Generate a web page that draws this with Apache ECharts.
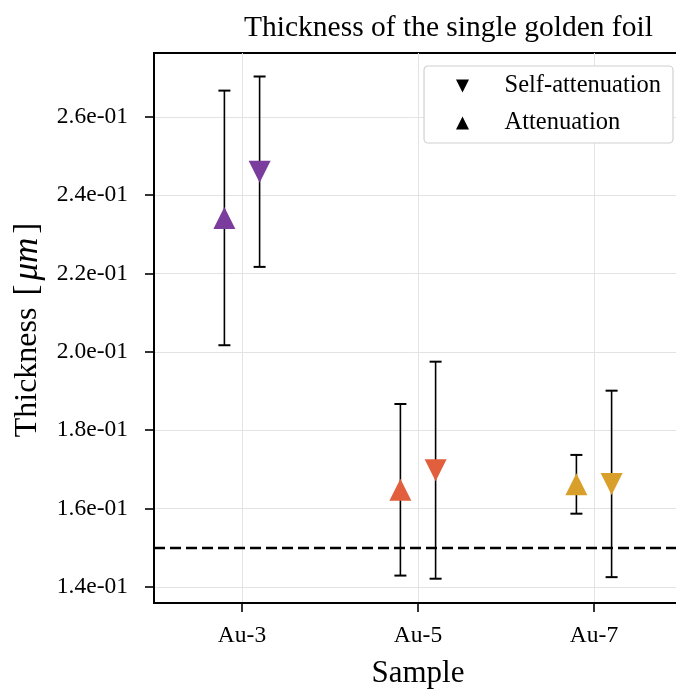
<!DOCTYPE html>
<html>
<head>
<meta charset="utf-8">
<script src="https://cdn.jsdelivr.net/npm/echarts@6/dist/echarts.min.js"></script>
<style>html,body{margin:0;padding:0;background:#fff;}#c{width:676px;height:695px;}</style>
</head>
<body>
<div id="c"></div>
<script>
// ---- data ----
const categories = ['Au-3', 'Au-5', 'Au-7'];
const attenuation = [0.2342, 0.1648, 0.1662];
const attenuationErr = [0.0325, 0.0219, 0.0075];
const selfAttenuation = [0.2460, 0.1698, 0.1663];
const selfAttenuationErr = [0.0243, 0.0277, 0.0238];
const referenceThickness = 0.15;
const yTickValues = [0.14, 0.16, 0.18, 0.20, 0.22, 0.24, 0.26];
const yTickLabels = ['1.4e-01', '1.6e-01', '1.8e-01', '2.0e-01', '2.2e-01', '2.4e-01', '2.6e-01'];
const sampleColors = ['#7a3d9d', '#e25f3d', '#d89f2b'];

const FONT = 'Liberation Serif, Times New Roman, serif';
const OFF = 0.1;
const xIdx = categories.map((c, i) => i);

function errData(vals, errs, off) {
  return vals.map((v, i) => [i + off, v - errs[i], v + errs[i]]);
}
function ptData(vals, off) {
  return vals.map((v, i) => ({ value: [i + off, v], itemStyle: { color: sampleColors[i], opacity: 1 } }));
}
function renderErr(params, api) {
  const x = api.value(0), lo = api.value(1), hi = api.value(2);
  const pLo = api.coord([x, lo]), pHi = api.coord([x, hi]);
  const cap = 6;
  const st = { stroke: '#000', lineWidth: 1.6 };
  return {
    type: 'group',
    children: [
      { type: 'line', shape: { x1: pLo[0], y1: pLo[1], x2: pHi[0], y2: pHi[1] }, style: st },
      { type: 'line', shape: { x1: pLo[0] - cap, y1: pLo[1], x2: pLo[0] + cap, y2: pLo[1] }, style: { stroke: '#000', lineWidth: 2 } },
      { type: 'line', shape: { x1: pHi[0] - cap, y1: pHi[1], x2: pHi[0] + cap, y2: pHi[1] }, style: { stroke: '#000', lineWidth: 2 } }
    ]
  };
}

const DOWN = 'path://M0,0L20,0L10,20Z';
const UP = 'path://M10,0L20,20L0,20Z';

const chart = echarts.init(document.getElementById('c'), null, { renderer: 'canvas' });
chart.setOption({
  animation: false,
  backgroundColor: '#fff',
  textStyle: { fontFamily: FONT },
  title: {
    text: 'Thickness of the single golden foil',
    left: 239, top: 8,
    textStyle: { fontFamily: FONT, fontSize: 29.5, fontWeight: 'normal', color: '#000' }
  },
  grid: { left: 154, top: 53, width: 528, bottom: 92, show: true, borderColor: '#000', borderWidth: 2,
    containLabel: false, outerBoundsMode: 'none' },
  legend: {
    orient: 'vertical',
    right: 3, top: 66,
    padding: [7, 12, 7, 32],
    itemGap: 11,
    itemWidth: 40, itemHeight: 13,
    backgroundColor: '#fff',
    borderColor: '#d0d0d0', borderWidth: 1.2, borderRadius: 4,
    itemStyle: { color: '#000', opacity: 1 },
    data: [
      { name: 'Self-attenuation', icon: DOWN },
      { name: 'Attenuation', icon: UP }
    ],
    textStyle: { fontFamily: FONT, fontSize: 24.5, color: '#000', lineHeight: 26, padding: [0, 0, 0, 17] }
  },
  xAxis: {
    type: 'value', min: -0.5, max: 2.5,
    name: 'Sample', nameLocation: 'middle', nameGap: 55,
    nameTextStyle: { fontFamily: FONT, fontSize: 31, color: '#000' },
    axisLine: { show: true, onZero: false, lineStyle: { color: '#000', width: 2 } },
    axisTick: { show: true, length: 9, lineStyle: { color: '#000', width: 1.6 }, customValues: xIdx },
    axisLabel: { customValues: xIdx, formatter: v => categories[Math.round(v)] || '', margin: 21,
      fontFamily: FONT, fontSize: 23.5, color: '#000' },
    splitLine: { show: true, lineStyle: { color: '#e3e3e3', width: 1 } }
  },
  yAxis: {
    type: 'value', min: 0.1359, max: 0.2763,
    name: 'Thickness {b|[}{i|μm}{b|]}', nameLocation: 'middle', nameGap: 109, nameRotate: 90,
    nameTextStyle: { fontFamily: FONT, fontSize: 32, color: '#000',
      rich: {
        b: { fontFamily: FONT, fontSize: 33, color: '#000', padding: [0, 4, 0, 4] },
        i: { fontFamily: FONT, fontSize: 35, fontStyle: 'italic', color: '#000' }
      } },
    axisLine: { show: true, onZero: false, lineStyle: { color: '#000', width: 2 } },
    axisTick: { show: true, length: 9, lineStyle: { color: '#000', width: 1.6 }, customValues: yTickValues },
    axisLabel: { customValues: yTickValues, margin: 26,
      formatter: v => { const k = yTickValues.findIndex(t => Math.abs(t - v) < 1e-9); return k >= 0 ? yTickLabels[k] : ''; },
      fontFamily: FONT, fontSize: 23.5, color: '#000' },
    splitLine: { show: true, lineStyle: { color: '#e3e3e3', width: 1 } }
  },
  series: [
    {
      type: 'custom', name: 'errAtt', renderItem: renderErr, z: 3,
      data: errData(attenuation, attenuationErr, -OFF),
      encode: { x: 0, y: [1, 2] }, silent: true,
      markLine: {
        silent: true, symbol: 'none', label: { show: false },
        lineStyle: { color: '#000', width: 2.4, type: [11, 5] },
        data: [{ yAxis: referenceThickness }]
      }
    },
    {
      type: 'custom', name: 'errSelf', renderItem: renderErr, z: 3,
      data: errData(selfAttenuation, selfAttenuationErr, OFF),
      encode: { x: 0, y: [1, 2] }, silent: true
    },
    {
      type: 'scatter', name: 'Self-attenuation', symbol: DOWN, symbolSize: 22, z: 5,
      itemStyle: { opacity: 1 },
      data: ptData(selfAttenuation, OFF)
    },
    {
      type: 'scatter', name: 'Attenuation', symbol: UP, symbolSize: 22, z: 5,
      itemStyle: { opacity: 1 },
      data: ptData(attenuation, -OFF)
    }
  ]
});
</script>
</body>
</html>
